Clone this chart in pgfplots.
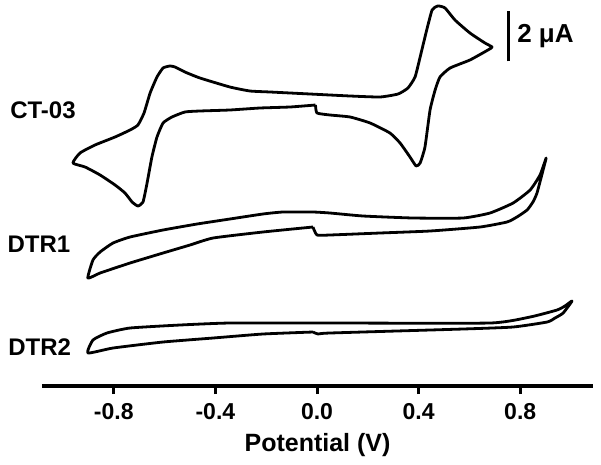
\documentclass[border=0pt]{standalone}
\usepackage{fontspec}
\setmainfont{Liberation Sans}
\usepackage{pgfplots}
\pgfplotsset{compat=1.18}

% cyclic voltammograms, offset vertically; current in uA (offset arbitrary)
\pgfplotstableread{
V I
-0.006 11.24
0.000 10.92
0.051 10.84
0.130 10.76
0.209 10.52
0.287 10.12
0.327 9.72
0.366 9.16
0.390 8.80
0.406 8.92
0.425 9.56
0.445 11.04
0.465 11.84
0.484 12.36
0.524 12.72
0.602 13.04
0.673 13.44
0.689 13.56
0.661 13.72
0.602 14.12
0.543 14.64
0.504 15.12
0.476 15.20
0.453 15.04
0.429 14.12
0.406 13.16
0.386 12.36
0.358 11.92
0.319 11.68
0.248 11.56
0.130 11.60
-0.028 11.68
-0.185 11.76
-0.264 11.80
-0.343 11.96
-0.461 12.32
-0.520 12.56
-0.559 12.76
-0.579 12.80
-0.606 12.72
-0.630 12.36
-0.657 11.72
-0.681 10.92
-0.705 10.44
-0.736 10.24
-0.795 9.96
-0.874 9.64
-0.933 9.32
-0.961 8.92
-0.913 8.76
-0.854 8.44
-0.795 8.04
-0.756 7.72
-0.728 7.36
-0.705 7.20
-0.685 7.36
-0.669 8.12
-0.650 9.16
-0.630 9.96
-0.606 10.52
-0.571 10.76
-0.520 10.96
-0.461 11.00
-0.343 11.04
-0.224 11.12
-0.106 11.16
-0.006 11.24
}\ctthree

\pgfplotstableread{
V I
-0.016 6.36
0.000 6.04
0.051 6.04
0.248 6.12
0.445 6.20
0.642 6.36
0.748 6.56
0.787 6.76
0.827 7.04
0.850 7.36
0.866 7.72
0.890 8.64
0.902 9.12
0.878 8.44
0.839 7.84
0.772 7.32
0.681 6.92
0.575 6.72
0.378 6.72
0.181 6.80
0.051 6.92
-0.016 6.96
-0.134 6.96
-0.213 6.88
-0.343 6.68
-0.472 6.48
-0.606 6.24
-0.736 5.96
-0.803 5.72
-0.854 5.36
-0.882 5.04
-0.902 4.32
-0.854 4.52
-0.736 4.92
-0.606 5.32
-0.500 5.64
-0.409 5.92
-0.213 6.16
-0.016 6.36
}\dtrone

\pgfplotstableread{
V I
-0.016 2.16
0.004 2.08
0.051 2.12
0.575 2.28
0.772 2.36
0.906 2.56
0.937 2.72
0.969 2.92
1.004 3.40
0.976 3.20
0.945 3.04
0.839 2.76
0.681 2.52
0.051 2.52
-0.343 2.52
-0.539 2.44
-0.736 2.32
-0.827 2.12
-0.882 1.84
-0.902 1.32
-0.803 1.52
-0.606 1.76
-0.409 1.92
-0.213 2.08
-0.016 2.16
}\dtrtwo

\begin{document}
\begin{tikzpicture}
\begin{axis}[
  x=127pt, y=12.5pt,
  xmin=-1.083, xmax=1.087, ymin=0, ymax=15.44,
  axis x line=bottom, axis y line=none,
  axis line style={line width=1.6pt,-},
  xtick={-0.8,-0.4,0,0.4,0.8},
  xticklabels={-0.8,-0.4,0.0,0.4,0.8},
  tick style={line width=1.5pt,black},
  major tick length=4pt,
  tick align=outside,
  x tick label style={font=\fontsize{11.5}{13}\selectfont\bfseries, yshift=-1pt},
  xlabel={Potential (V)},
  xlabel style={font=\fontsize{12.5}{14}\selectfont\bfseries},
  clip=false,
  cv/.style={line width=1.4pt, black, line join=round, mark=none, smooth, tension=0.3},
]
\addplot[cv] table[x=V,y=I] {\ctthree};
\addplot[cv] table[x=V,y=I] {\dtrone};
\addplot[cv] table[x=V,y=I] {\dtrtwo};
% 2 uA scale bar
\addplot[line width=1.5pt, line cap=butt, black, mark=none] coordinates {(0.752,12.98) (0.752,14.98)};
\node[anchor=west, font=\fontsize{13}{15}\selectfont\bfseries, inner sep=0pt] at (axis cs:0.787,14.0) {2 μA};
\node[anchor=west, font=\fontsize{12}{14}\selectfont\bfseries, inner sep=0pt] at (axis cs:-1.209,11.04) {CT-03};
\node[anchor=west, font=\fontsize{12}{14}\selectfont\bfseries, inner sep=0pt] at (axis cs:-1.220,5.68) {DTR1};
\node[anchor=west, font=\fontsize{12}{14}\selectfont\bfseries, inner sep=0pt] at (axis cs:-1.217,1.56) {DTR2};
\coordinate (bbsw) at (axis cs:-1.248,-3.12);
\coordinate (bbne) at (axis cs:1.118,15.44);
\end{axis}
\useasboundingbox (bbsw) rectangle (bbne);
\end{tikzpicture}
\end{document}
